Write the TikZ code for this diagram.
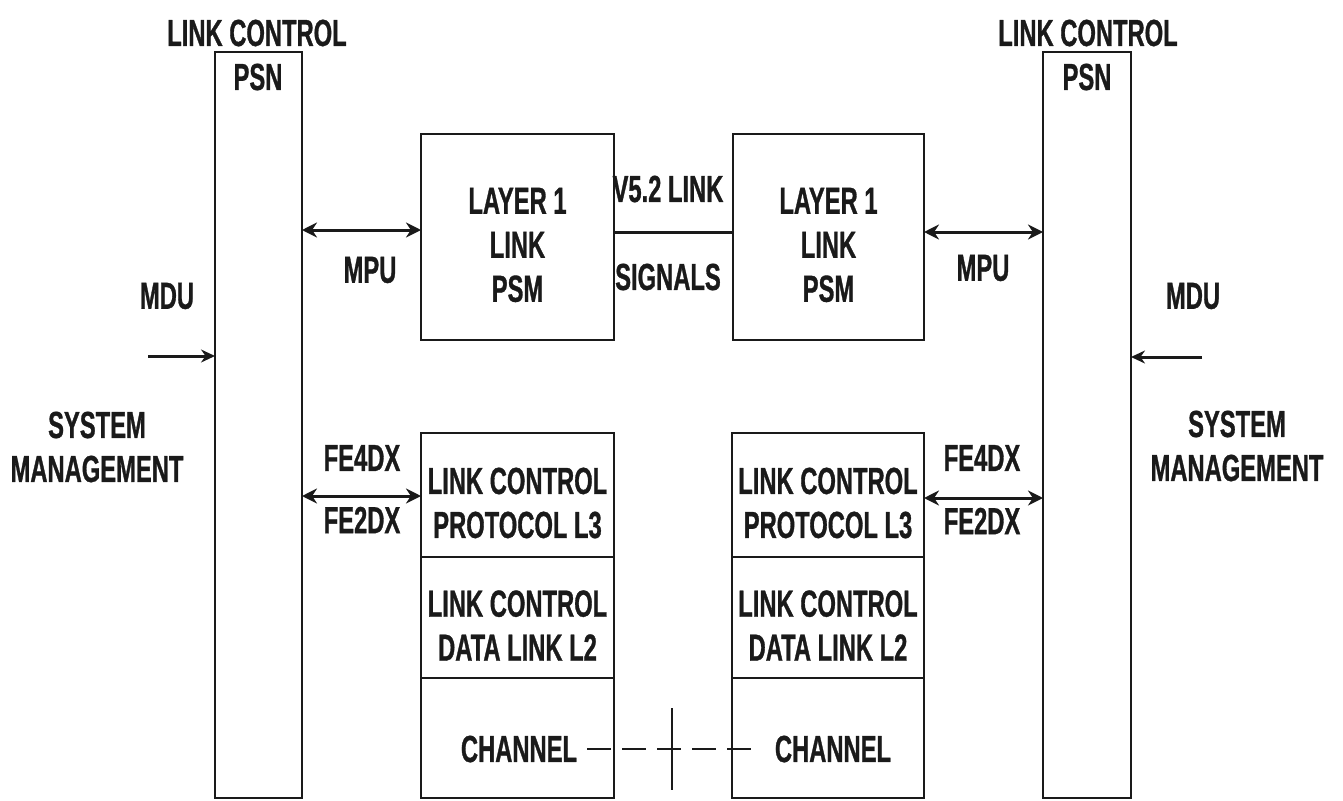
\documentclass[tikz,border=0pt]{standalone}
\usepackage{fontspec}
\setmainfont{Liberation Sans}[FakeStretch=0.63]
\newfontfamily\heavyfont{Liberation Sans Bold}[FakeStretch=0.63, FakeBold=0.8]
\usetikzlibrary{arrows.meta,calc}
\definecolor{ink}{HTML}{1A1A1A}
\tikzset{
  box/.style={draw=ink, line width=2.8pt, inner sep=0pt, outer sep=0pt, anchor=north west},
  lbl/.style={font=\heavyfont\fontsize{37.7}{44}\selectfont, text=ink, inner sep=0pt, align=center},
  biarrow/.style={draw=ink, line width=3pt, {Stealth[length=15pt,width=15pt]}-{Stealth[length=15pt,width=15pt]}},
  inarrow/.style={draw=ink, line width=3pt, -{Stealth[length=14pt,width=13pt]}},
  link/.style={draw=ink, line width=3pt},
  chdash/.style={draw=ink, line width=2.8pt, dash pattern=on 24pt off 11pt}
}
\begin{document}
\begin{tikzpicture}[x=1pt,y=-1pt]
\useasboundingbox (0,0) rectangle (1343,800);

% PSN columns
\node[box, minimum width=87pt, minimum height=746pt] (psnL) at (215,52) {};
\node[box, minimum width=88pt, minimum height=746pt] (psnR) at (1043,52) {};
\node[lbl] at (257,33) {LINK CONTROL};
\node[lbl] at (1088,33) {LINK CONTROL};
\node[lbl] at (258,77) {PSN};
\node[lbl] at (1087,77) {PSN};

% Layer 1 boxes
\node[box, minimum width=193pt, minimum height=206pt] (l1L) at (421,134) {};
\node[box, minimum width=191pt, minimum height=206pt] (l1R) at (733,134) {};
\node[lbl] at ([yshift=-8pt]l1L.center) {LAYER 1\\LINK\\PSM};
\node[lbl] at ([yshift=-8pt]l1R.center) {LAYER 1\\LINK\\PSM};

% V5.2 link between the two layer 1 boxes
\draw[link] (l1L.east |- 0,232) -- (l1R.west |- 0,232);
\node[lbl] at (668,189) {V5.2 LINK};
\node[lbl] at (668,277) {SIGNALS};

% Link control stacks
\node[box, minimum width=193pt, minimum height=124pt] (p3L) at (421,433) {};
\node[box, minimum width=193pt, minimum height=121pt] (p2L) at (421,557) {};
\node[box, minimum width=193pt, minimum height=120pt] (chL) at (421,678) {};
\node[box, minimum width=192pt, minimum height=124pt] (p3R) at (732,433) {};
\node[box, minimum width=192pt, minimum height=121pt] (p2R) at (732,557) {};
\node[box, minimum width=192pt, minimum height=120pt] (chR) at (732,678) {};
\node[lbl] at ([yshift=-8pt]p3L.center) {LINK CONTROL\\PROTOCOL L3};
\node[lbl] at ([yshift=-8pt]p2L.center) {LINK CONTROL\\DATA LINK L2};
\node[lbl] at ([yshift=-8pt]p3R.center) {LINK CONTROL\\PROTOCOL L3};
\node[lbl] at ([yshift=-8pt]p2R.center) {LINK CONTROL\\DATA LINK L2};
\node[lbl] (chanL) at (519,749) {CHANNEL};
\node[lbl] (chanR) at (833,749) {CHANNEL};

% Channel connection with its crossing mark
\draw[chdash] ([xshift=10pt]chanL.east) -- ([xshift=-23pt]chanR.west);
\coordinate (cutT) at (672,708);
\coordinate (cutB) at (672,790);
\draw[link, line width=2.8pt] (cutT) -- (cutB);

% MPU interfaces
\draw[biarrow] (psnL.east |- 0,230) -- (l1L.west |- 0,230);
\draw[biarrow] (l1R.east |- 0,232) -- (psnR.west |- 0,232);
\node[lbl] at (370,270) {MPU};
\node[lbl] at (983,268) {MPU};

% FE interfaces
\draw[biarrow] (psnL.east |- 0,496) -- (p3L.west |- 0,496);
\draw[biarrow] (p3R.east |- 0,498) -- (psnR.west |- 0,498);
\node[lbl] at (362,458) {FE4DX};
\node[lbl] at (362,520) {FE2DX};
\node[lbl] at (982,458) {FE4DX};
\node[lbl] at (982,521) {FE2DX};

% System management inputs
\coordinate (mduL) at (148,356);
\coordinate (mduR) at (1202,357);
\draw[inarrow] (mduL) -- (psnL.west |- mduL);
\draw[inarrow] (mduR) -- (psnR.east |- mduR);
\node[lbl] at (167,296) {MDU};
\node[lbl] at (1193,296) {MDU};
\node[lbl] at (97,447) {SYSTEM\\MANAGEMENT};
\node[lbl] at (1237,446) {SYSTEM\\MANAGEMENT};
\end{tikzpicture}
\end{document}
